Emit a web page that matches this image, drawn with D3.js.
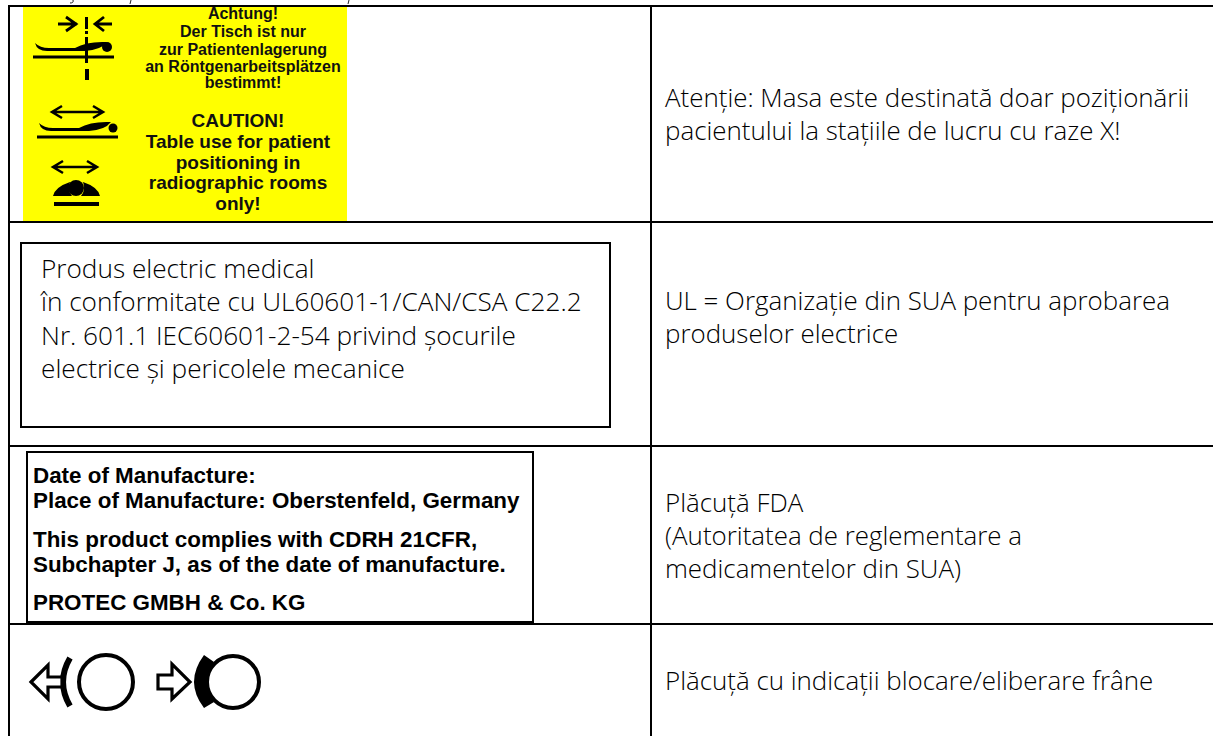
<!DOCTYPE html>
<html><head><meta charset="utf-8"><script src="https://cdn.jsdelivr.net/npm/d3@7/dist/d3.min.js"></script>
<style>html,body{margin:0;background:#fff;overflow:hidden}svg{display:block}</style></head><body><svg id="c" width="1213" height="736"></svg>
<script>
const rowEdges=[6,222,446,624];
const colEdges=[9,651];
const rightCells=[
 ["Atenție: Masa este destinată doar poziționării","pacientului la stațiile de lucru cu raze X!"],
 ["UL = Organizație din SUA pentru aprobarea","produselor electrice"],
 ["Plăcuță FDA","(Autoritatea de reglementare a","medicamentelor din SUA)"],
 ["Plăcuță cu indicații blocare/eliberare frâne"]];
const rightBaselines=[[107,140],[310,343],[512,545,578],[690]];
const labelGerman=["Achtung!","Der Tisch ist nur","zur Patientenlagerung","an Röntgenarbeitsplätzen","bestimmt!"];
const germanBaselines=[19,37,55,72,88];
const labelEnglish=["CAUTION!","Table use for patient","positioning in","radiographic rooms","only!"];
const englishBaselines=[127,148,169,189,210];
const ulBox=["Produs electric medical","în conformitate cu UL60601-1/CAN/CSA C22.2","Nr. 601.1 IEC60601-2-54 privind șocurile","electrice și pericolele mecanice"];
const ulBaselines=[278,311,345,378];
const fdaLines=["Date of Manufacture:","Place of Manufacture: Oberstenfeld, Germany","This product complies with CDRH 21CFR,","Subchapter J, as of the date of manufacture.","PROTEC GMBH & Co. KG"];
const fdaBaselines=[483,508,547,572,610];
const F='"Open Sans","Noto Sans",sans-serif', A='"Liberation Sans",Arial,sans-serif';
const svg=d3.select("#c");
function lines(arr,x,ys,o){svg.append("g").selectAll("text").data(arr).join("text")
 .attr("x",x).attr("y",(d,i)=>ys[i]).attr("font-family",o.f).attr("font-size",o.s)
 .attr("font-weight",o.w||400).attr("text-anchor",o.a||"start").attr("fill",o.c||"#111").text(d=>d);}
svg.append("rect").attr("x",23).attr("y",6).attr("width",324).attr("height",216).attr("fill","#ffff00");
svg.append("g").selectAll("line").data(rowEdges).join("line").attr("x1",8).attr("x2",1213).attr("y1",d=>d).attr("y2",d=>d).attr("stroke","#000").attr("stroke-width",2);
svg.append("g").selectAll("line").data(colEdges).join("line").attr("x1",d=>d).attr("x2",d=>d).attr("y1",5).attr("y2",736).attr("stroke","#000").attr("stroke-width",2);
rightCells.forEach((c,i)=>lines(c,665,rightBaselines[i],{f:F,s:25.9,w:300,c:"#000"}));
lines(labelGerman,243,germanBaselines,{f:A,s:16,w:700,a:"middle"});
lines(labelEnglish,238,englishBaselines,{f:A,s:19,w:700,a:"middle"});
svg.append("rect").attr("x",21).attr("y",243).attr("width",589).attr("height",184).attr("fill","none").attr("stroke","#000").attr("stroke-width",2);
lines(ulBox,41,ulBaselines,{f:F,s:26.2,w:300,c:"#000"});
svg.append("rect").attr("x",27).attr("y",452).attr("width",506).attr("height",170).attr("fill","#fff").attr("stroke","#000").attr("stroke-width",2);
lines(fdaLines,33,fdaBaselines,{f:A,s:22.4,w:700,c:"#000"});
const ink="#000";
function arrowH(g,x1,x2,y){g.append("path").attr("d",`M${x1},${y}H${x2}M${x1+10},${y-6}L${x1},${y}L${x1+10},${y+6}M${x2-10},${y-6}L${x2},${y}L${x2-10},${y+6}`).attr("fill","none").attr("stroke",ink).attr("stroke-width",2.5);}
function patient(g,x,y){
 g.append("path").attr("d",`M${x+2},${y-14}q5,5 14,5h26q12,-7 32,-6q-6,8 -22,9h-38q-10,0 -12,-8z`).attr("fill",ink);
 g.append("rect").attr("x",x).attr("y",y-1.5).attr("width",81).attr("height",3).attr("fill",ink);}
const p=svg.append("g");
p.append("path").attr("d","M58,24h19M66,17l10,7l-10,7M112,24h-17M104,17l-9,7l9,7").attr("fill","none").attr("stroke",ink).attr("stroke-width",2.8);
p.append("rect").attr("x",85).attr("y",17).attr("width",3).attr("height",12).attr("fill",ink);
p.append("rect").attr("x",85).attr("y",31).attr("width",3).attr("height",3).attr("fill",ink);
patient(p,33,57);
p.append("circle").attr("cx",107).attr("cy",47).attr("r",5).attr("fill",ink);
p.append("rect").attr("x",85).attr("y",37).attr("width",3).attr("height",26).attr("fill",ink);
p.append("rect").attr("x",85).attr("y",69).attr("width",4).attr("height",11).attr("fill",ink);
arrowH(p,52,103,112);
patient(p,37,137);
p.append("circle").attr("cx",113).attr("cy",128).attr("r",4.5).attr("fill",ink);
arrowH(p,53,97,167);
p.append("circle").attr("cx",76).attr("cy",188).attr("r",8).attr("fill",ink);
p.append("path").attr("d","M53,196q2,-9 17,-14q-3,8 2,14zM100,196q-2,-9 -17,-14q3,8 -2,14z").attr("fill",ink);
p.append("rect").attr("x",54).attr("y",202).attr("width",45).attr("height",4).attr("fill",ink);
const b=svg.append("g").attr("fill","none").attr("stroke",ink);
b.append("circle").attr("cx",106).attr("cy",682).attr("r",27).attr("stroke-width",4);
b.append("path").attr("d","M70,658Q56,682 70,706").attr("stroke-width",6);
b.append("path").attr("d","M31,682L48,665V677H62V687H48V699Z").attr("stroke-width",3.2).attr("fill","#fff");
b.append("circle").attr("cx",233).attr("cy",682).attr("r",26).attr("stroke-width",4);
b.append("path").attr("d","M204,655Q184,682 204,708L214,702Q202,682 214,662Z").attr("fill",ink).attr("stroke","none");
b.append("path").attr("d","M158,675H172V664L190,682L172,699V689H158Z").attr("stroke-width",3.2).attr("fill","#fff");
svg.append("path").attr("d","M73,0q1,3 -3,3M131,0l-1,4M349,0l-1,4").attr("fill","none").attr("stroke","#222").attr("stroke-width",1);
</script></body></html>
